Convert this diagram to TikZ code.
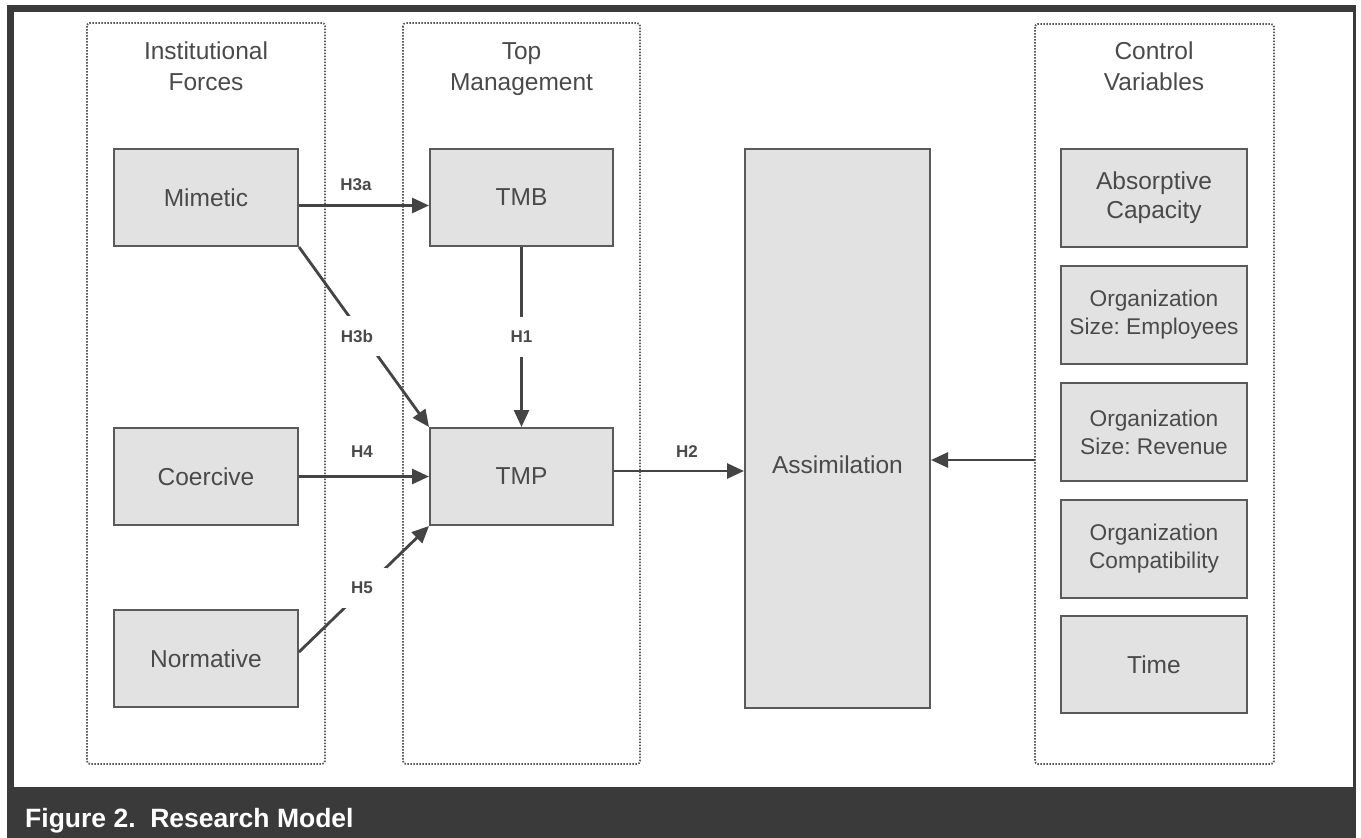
\documentclass[tikz,border=0pt]{standalone}
\usepackage{fontspec}
\setmainfont{Liberation Sans}
\usetikzlibrary{arrows.meta}
\definecolor{framecol}{HTML}{3A3A3A}
\definecolor{boxfill}{HTML}{E2E2E2}
\definecolor{boxline}{HTML}{5A5A5A}
\definecolor{txtcol}{HTML}{4A4A4A}
\definecolor{arrcol}{HTML}{444444}
\definecolor{dotcol}{HTML}{5A5A5A}
\frenchspacing
\begin{document}
\begin{tikzpicture}[x=1pt,y=-1pt,
  varbox/.style={draw=boxline, line width=2pt, fill=boxfill, inner sep=0pt, text=txtcol, align=center, font=\fontsize{24.5}{29}\selectfont},
  orgbox/.style={varbox, font=\fontsize{22.7}{28}\selectfont},
  grp/.style={draw=dotcol, line width=1.8pt, dash pattern=on 1.5pt off 1.5pt, rounded corners=3pt},
  grptitle/.style={anchor=north, inner sep=0pt, text=txtcol, align=center, font=\fontsize{24.5}{31}\selectfont},
  link/.style={draw=arrcol, line width=2.8pt, -{Triangle[length=17pt,width=15pt]}},
  lab/.style={inner sep=0pt, text=txtcol, font=\bfseries\fontsize{17}{20}\selectfont},
  cut/.style={lab, fill=white, inner sep=14pt}
]
% background and frame
\fill[white] (0,0) rectangle (1361,838);
\fill[framecol] (7,5) rectangle (1356,838);
\fill[white] (14,12) rectangle (1353,787);
\node[anchor=base west, inner sep=0pt, text=white, font=\bfseries\fontsize{26.5}{30}\selectfont] (caption) at (25,827) {Figure 2.\ \ Research Model};

% group frames
\draw[grp] (87,23) rectangle (325,764);
\draw[grp] (403,23) rectangle (640,764);
\draw[grp] (1035,24) rectangle (1274,764);
\node[grptitle] (t1) at (206,42) {Institutional\\Forces};
\node[grptitle] (t2) at (521.5,42) {Top\\Management};
\node[grptitle] (t3) at (1154,42) {Control\\Variables};

% boxes
\node[varbox, minimum width=184pt, minimum height=97pt] (mim) at (206,197.5) {Mimetic};
\node[varbox, minimum width=184pt, minimum height=97pt] (coe) at (206,476.5) {Coercive};
\node[varbox, minimum width=184pt, minimum height=97pt] (nor) at (206,658.5) {Normative};
\node[varbox, minimum width=183pt, minimum height=97pt] (tmb) at (521.5,197.5) {TMB};
\node[varbox, minimum width=183pt, minimum height=97pt] (tmp) at (521.5,476.5) {TMP};
\node[varbox, minimum width=185pt, minimum height=559pt] (asm) at (837.5,428.5) {};
\node[inner sep=0pt, text=txtcol, font=\fontsize{24.5}{29}\selectfont] (asmtext) at (837.5,465) {Assimilation};

\node[varbox, minimum width=186pt, minimum height=98pt] (abs) at (1154,198) {Absorptive\\Capacity};
\node[orgbox, minimum width=186pt, minimum height=98pt] (emp) at (1154,315) {Organization\\Size: Employees};
\node[orgbox, minimum width=186pt, minimum height=98pt] (rev) at (1154,432) {Organization\\Size: Revenue};
\node[orgbox, minimum width=186pt, minimum height=98pt] (com) at (1154,549) {Organization\\Compatibility};
\node[varbox, minimum width=186pt, minimum height=97pt] (tim) at (1154,664.5) {Time};

% connectors
\coordinate (h3as) at ([yshift=-8pt]mim.east);
\draw[link] (h3as) -- (h3as -| tmb.west);
\draw[link] (mim.south east) -- (tmp.north west);
\draw[link] (coe.east) -- (tmp.west);
\draw[link] ([yshift=6.5pt]nor.east) -- (tmp.south west);
\draw[link] (tmb.south) -- (tmp.north);
\coordinate (h2s) at ([yshift=5.5pt]tmp.east);
\draw[link] (h2s) -- (h2s -| asm.west);
\coordinate (cs) at (1035,460);
\draw[link] (cs) -- (cs -| asm.east);

% labels
\node[lab] (l3a) at (356,185) {H3a};
\node[cut] (l3b) at (357,336) {H3b};
\node[lab] (l4) at (362,452) {H4};
\node[cut] (l5) at (362,588) {H5};
\node[cut] (l1) at (521.5,337) {H1};
\node[lab] (l2) at (687,452) {H2};
\end{tikzpicture}
\end{document}
